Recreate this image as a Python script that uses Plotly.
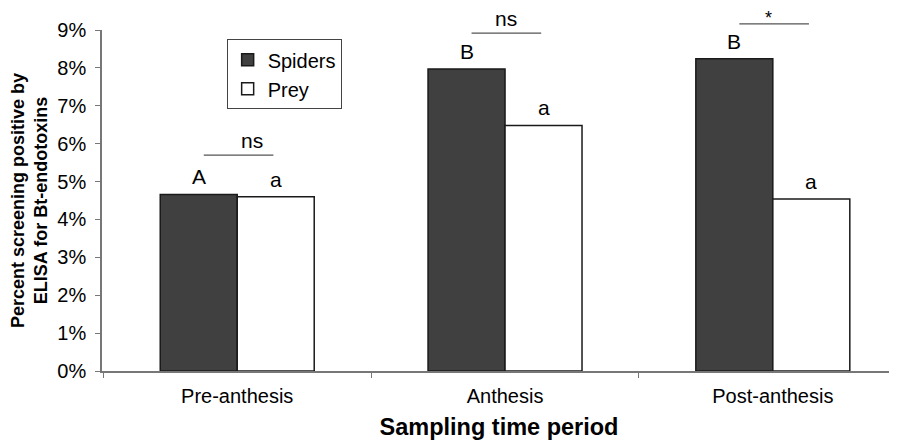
import plotly.graph_objects as go

categories = ["Pre-anthesis", "Anthesis", "Post-anthesis"]
spiders = [4.66, 7.97, 8.24]
prey = [4.60, 6.48, 4.54]
spider_letters = ["A", "B", "B"]
prey_letters = ["a", "a", "a"]
sig_labels = ["ns", "ns", "*"]
sig_heights = [5.70, 8.92, 9.16]
y_ticks = [0, 1, 2, 3, 4, 5, 6, 7, 8, 9]

FONT = "Liberation Sans, Arial, sans-serif"
XMIN, XMAX = -0.505, 2.46
YMAX = 9
BARGAP = 0.425
half = (1 - BARGAP) / 4  # bar centre offset in category units

fig = go.Figure()
fig.add_trace(go.Bar(x=categories, y=spiders, name="Spiders",
                     marker=dict(color="#404040", line=dict(color="#1a1a1a", width=1.5))))
fig.add_trace(go.Bar(x=categories, y=prey, name="Prey",
                     marker=dict(color="white", line=dict(color="#1a1a1a", width=1.5))))

for i in range(len(categories)):
    fig.add_annotation(x=i - half, y=spiders[i], text=spider_letters[i], showarrow=False,
                       yanchor="bottom", yshift=4, font=dict(size=21, color="black", family=FONT))
    fig.add_annotation(x=i + half, y=prey[i], text=prey_letters[i], showarrow=False,
                       yanchor="bottom", yshift=4, font=dict(size=21, color="black", family=FONT))
    x0 = (i - 0.125 - XMIN) / (XMAX - XMIN)
    x1 = (i + 0.135 - XMIN) / (XMAX - XMIN)
    yd = sig_heights[i] / YMAX
    fig.add_shape(type="line", xref="x domain", yref="y domain", x0=x0, x1=x1, y0=yd, y1=yd,
                  line=dict(color="#555555", width=1.2))
    star = sig_labels[i] == "*"
    fig.add_annotation(xref="x domain", yref="y domain", x=(x0 + x1) / 2, y=yd,
                       text=sig_labels[i], showarrow=False, yanchor="bottom",
                       yshift=-6 if star else 1,
                       font=dict(size=18 if star else 21, color="black", family=FONT))

# page body has an 8px default margin: figure is sized/offset to compensate
fig.update_layout(
    width=889, height=432,
    margin=dict(l=94, r=1, t=22, b=69),
    paper_bgcolor="white", plot_bgcolor="white",
    barmode="group", bargap=BARGAP, bargroupgap=0,
    font=dict(family=FONT, color="black"),
    showlegend=True,
    legend=dict(x=0.157, y=0.973, xanchor="left", yanchor="top",
                bordercolor="#444444", borderwidth=1, bgcolor="white",
                font=dict(size=20, family=FONT), itemwidth=30,
                tracegroupgap=0),
)
fig.update_xaxes(range=[XMIN, XMAX], showline=True, linecolor="#777777", linewidth=1.5,
                 ticks="outside", tickson="boundaries", ticklen=5, tickcolor="#777777",
                 tickfont=dict(size=20, family=FONT), automargin=False, ticklabelstandoff=6,
                 title=dict(text="<b>Sampling time period</b>", font=dict(size=23.5, family=FONT), standoff=15),
                 showgrid=False, zeroline=False)
fig.update_yaxes(range=[0, YMAX], tickvals=y_ticks, ticktext=[f"{v}%" for v in y_ticks],
                 showline=True, linecolor="#777777", linewidth=1.5,
                 ticks="outside", ticklen=5, tickcolor="#777777",
                 tickfont=dict(size=20, family=FONT), automargin=False, ticklabelstandoff=5,
                 title=dict(text="<b>Percent screening positive by<br>ELISA for Bt-endotoxins</b>",
                            font=dict(size=18, family=FONT), standoff=10),
                 showgrid=False, zeroline=False)

fig.write_html("out.html")
